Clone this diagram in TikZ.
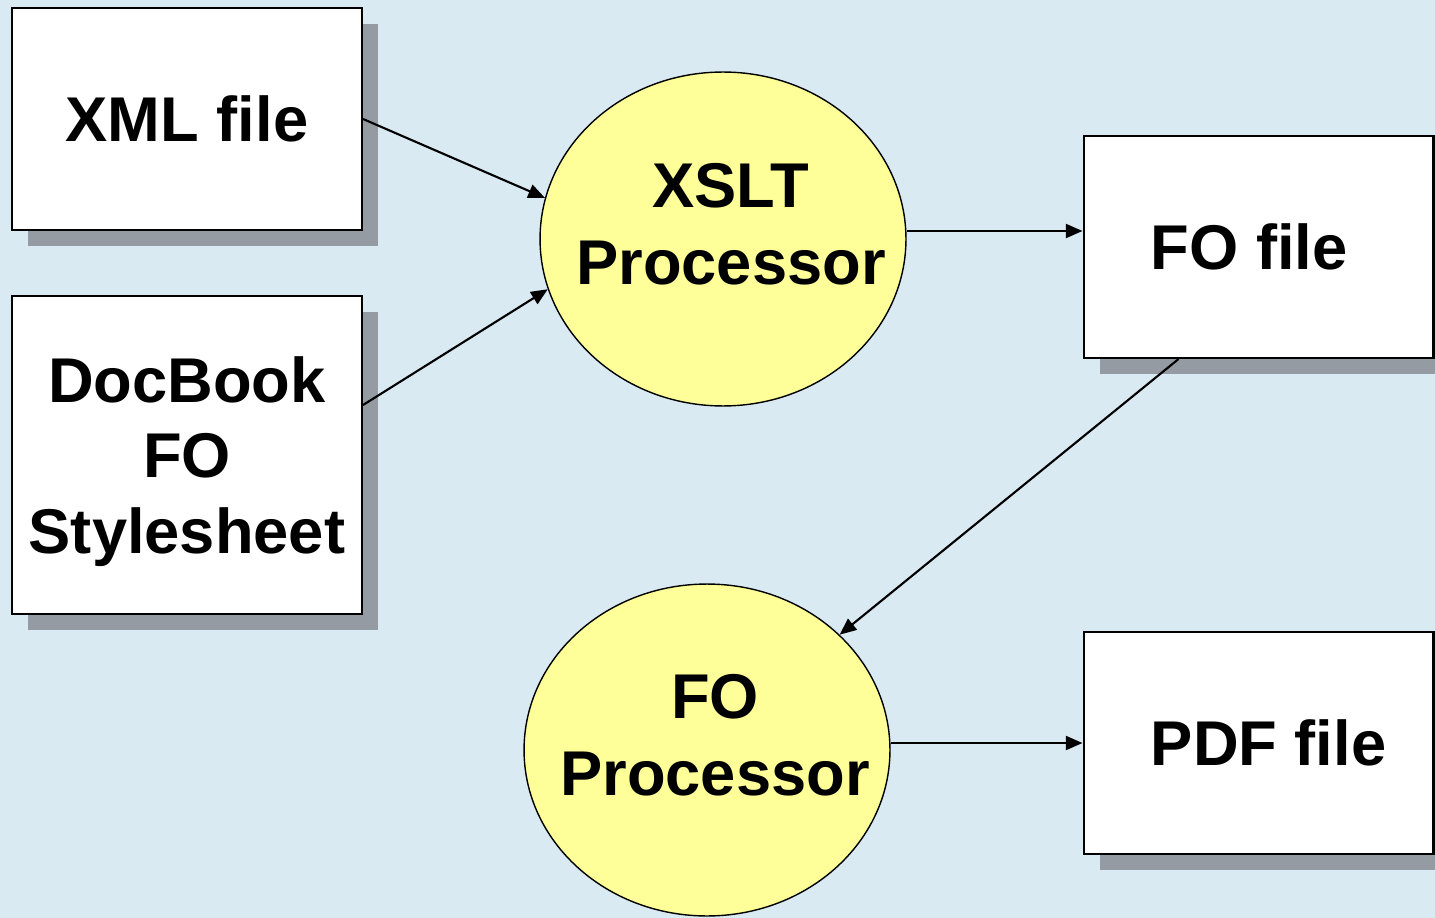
\documentclass[tikz,border=0pt]{standalone}
\usepackage{fontspec}
\setmainfont{Liberation Sans}
\usetikzlibrary{shapes.geometric, shadows, arrows.meta}
\definecolor{bgblue}{RGB}{218,234,243}
\definecolor{shadowgrey}{RGB}{149,155,162}
\definecolor{procyellow}{RGB}{255,255,153}

\begin{document}
\begin{tikzpicture}[x=0.02cm, y=-0.02cm,
  filebox/.style={draw, line width=1.2pt, fill=white, minimum width=7cm, minimum height=4.44cm, inner sep=0pt,
    font=\bfseries\fontsize{36}{43}\selectfont, align=center,
    drop shadow={shadow xshift=0.32cm, shadow yshift=-0.32cm, fill=shadowgrey, opacity=1}},
  proc/.style={ellipse, draw, line width=0.8pt, fill=procyellow, minimum width=7.32cm, minimum height=6.68cm, inner sep=0pt},
  proctext/.style={font=\bfseries\fontsize{36}{44}\selectfont, align=center, inner sep=0pt},
  boxtext/.style={font=\bfseries\fontsize{36}{44}\selectfont, inner sep=0pt, anchor=west},
  arr/.style={-{Triangle[length=9.5pt, width=8pt]}, line width=1.2pt}]
\path[use as bounding box, fill=bgblue] (0,0) rectangle (1435,918);
% input files
\node[filebox] (xml) at (187,119) {XML file};
\node[filebox, minimum height=6.36cm, text depth=0pt] (docbook) at (187,455) {DocBook\\FO\\Stylesheet};
% processors
\node[proc, label={[proctext, xshift=0.16cm, yshift=0.3cm]center:{XSLT\\Processor}}] (xslt) at (723,239) {};
\node[proc, minimum height=6.64cm, label={[proctext, xshift=0.16cm, yshift=0.3cm]center:{FO\\Processor}}] (fop) at (707,750) {};
% output files
\node[filebox, label={[boxtext, xshift=1.36cm]west:FO file}] (fofile) at (1258.5,247) {};
\node[filebox, label={[boxtext, xshift=1.36cm]west:PDF file}] (pdf) at (1258.5,743) {};
% arrows
\draw[arr] (xml.east) -- (xslt.167);
\draw[arr] ([yshift=1cm]docbook.east) -- (xslt.196);
\draw[arr] ([yshift=0.16cm]xslt.east) -- ([yshift=0.16cm]xslt.east -| fofile.west);
\draw[arr] ([xshift=-1.6cm]fofile.south) -- (fop.41);
\draw[arr] (pdf.west -| fop.east) -- (pdf.west);
\end{tikzpicture}
\end{document}
